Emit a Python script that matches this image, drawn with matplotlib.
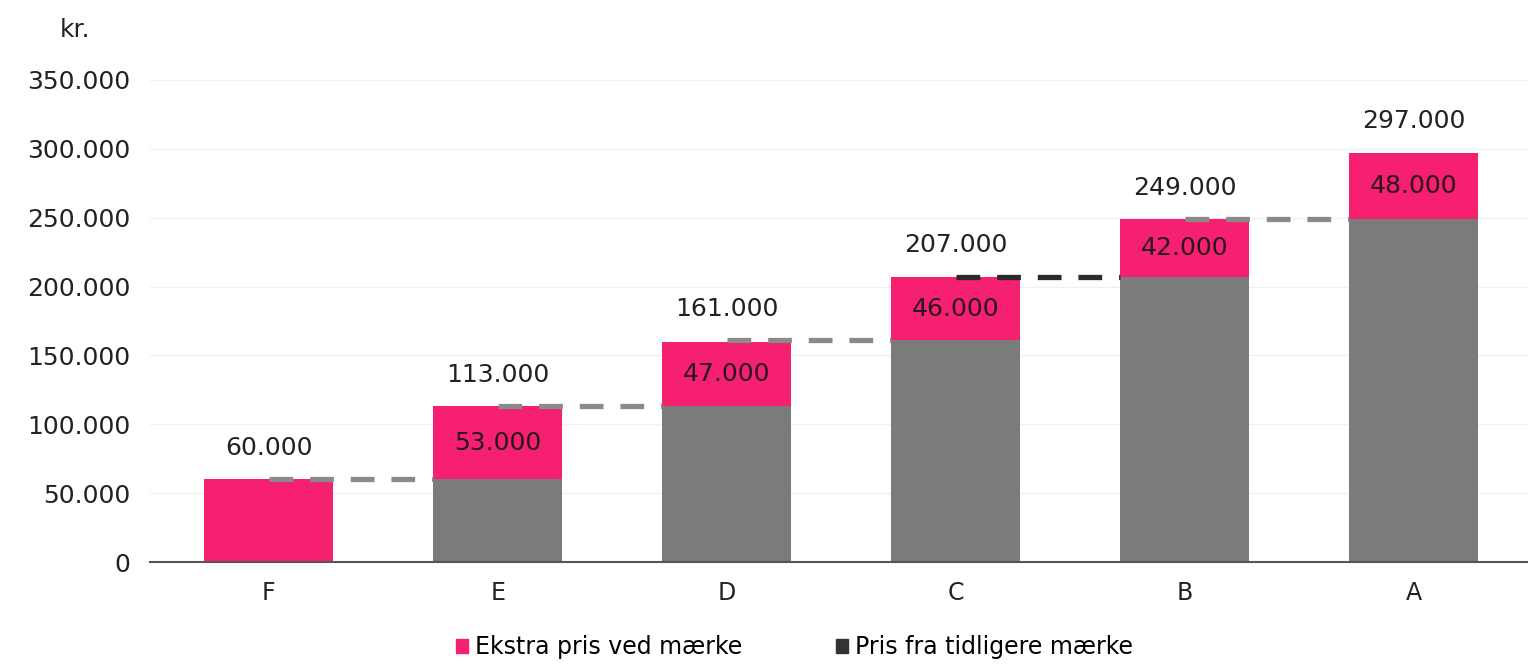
import numpy as np
import matplotlib.pyplot as plt
from matplotlib.patches import Patch

# Data
labels = ['F', 'E', 'D', 'C', 'B', 'A']
base = [0, 60000, 113000, 161000, 207000, 249000]      # Pris fra tidligere maerke
extra = [60000, 53000, 47000, 46000, 42000, 48000]     # Ekstra pris ved maerke
totals = [60000, 113000, 161000, 207000, 249000, 297000]
link_colors = ['#8a8a8a', '#8a8a8a', '#8a8a8a', '#2a2a2a', '#8a8a8a']

pink = '#f5206f'
grey = '#7b7b7b'


def fmt(v):
    return f'{v:,.0f}'.replace(',', '.')


x = np.arange(len(labels))
width = 0.565

fig = plt.figure(figsize=(15.28, 6.64), dpi=100)
ax = fig.add_axes([0.098, 0.1536, 0.902, 0.726])

ax.bar(x, base, width, color=grey, zorder=2)
ax.bar(x, extra, width, bottom=base, color=pink, zorder=2)

# dashed connectors from previous bar top to next bar
for i in range(len(labels) - 1):
    ax.plot([x[i], x[i + 1] - width / 2], [totals[i], totals[i]],
            ls=(0, (4.5, 3.2)), lw=3.8, color=link_colors[i], zorder=3)

# labels
for i in range(len(labels)):
    ax.annotate(fmt(totals[i]), (x[i], totals[i]), xytext=(0, 14),
                textcoords='offset points', ha='center', va='bottom',
                fontsize=18, color='#222222')
    if i > 0:
        ax.text(x[i], base[i] + extra[i] / 2, fmt(extra[i]),
                ha='center', va='center', fontsize=18, color='#2a1520',
                fontweight='medium', zorder=4)

ax.set_xlim(-0.52, 5.5)
ax.set_ylim(0, 350000)
ax.set_yticks(np.arange(0, 350001, 50000))
ax.set_yticklabels([fmt(v) for v in np.arange(0, 350001, 50000)])
ax.set_xticks(x)
ax.set_xticklabels(labels)
ax.tick_params(axis='y', length=0, labelsize=18, pad=14, colors='#222222')
ax.tick_params(axis='x', length=0, labelsize=17, pad=14, colors='#222222')
ax.grid(axis='y', color='#f0f0f0', lw=1, zorder=0)
for s in ['top', 'right', 'left']:
    ax.spines[s].set_visible(False)
ax.spines['bottom'].set_color('#555555')
ax.spines['bottom'].set_linewidth(1.5)

fig.text(0.049, 0.955, 'kr.', fontsize=18, ha='center', va='center', color='#222222')

handles = [Patch(color=pink, label='Ekstra pris ved mærke'),
           Patch(color='#333333', label='Pris fra tidligere mærke')]
fig.legend(handles=handles, loc='center', bbox_to_anchor=(0.52, 0.025), ncol=2,
           frameon=False, fontsize=17, handlelength=0.5, handleheight=0.5,
           columnspacing=4, handletextpad=0.3)

fig.savefig('out.png', dpi=100)
